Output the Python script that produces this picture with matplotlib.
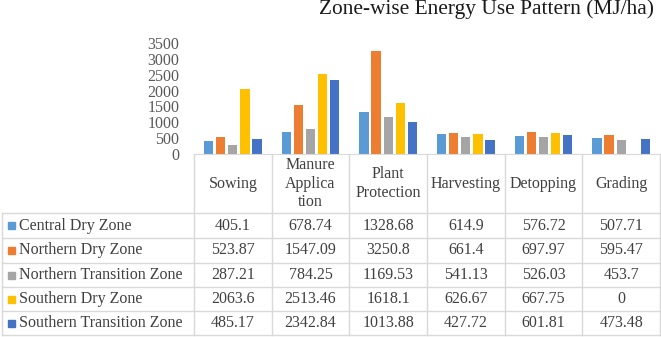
import numpy as np
import matplotlib.pyplot as plt
from matplotlib.patches import Rectangle

plt.rcParams['font.family'] = ['Liberation Serif', 'DejaVu Serif']

# Data
operations = ["Sowing", "Manure\nApplica\ntion", "Plant\nProtection", "Harvesting", "Detopping", "Grading"]
zones = ["Central Dry Zone", "Northern Dry Zone", "Northern Transition Zone",
         "Southern Dry Zone", "Southern Transition Zone"]
central_dry = [405.1, 678.74, 1328.68, 614.9, 576.72, 507.71]
northern_dry = [523.87, 1547.09, 3250.8, 661.4, 697.97, 595.47]
northern_transition = [287.21, 784.25, 1169.53, 541.13, 526.03, 453.7]
southern_dry = [2063.6, 2513.46, 1618.1, 626.67, 667.75, 0]
southern_transition = [485.17, 2342.84, 1013.88, 427.72, 601.81, 473.48]
yticks = [0, 500, 1000, 1500, 2000, 2500, 3000, 3500]

series = [central_dry, northern_dry, northern_transition, southern_dry, southern_transition]
colors = ['#5B9BD5', '#ED7D31', '#A5A5A5', '#FFC000', '#4472C4']

W, H = 661, 337
fig = plt.figure(figsize=(W / 100, H / 100), dpi=100)

# layout in pixels
x0, x1 = 194, 660      # category columns
y_top, y_axis = 43, 154  # plot top / axis line
lab_x0 = 2
row_lines = [213, 238, 263, 287, 311, 335]
grid_c = '#D9D9D9'
txt_c = '#404040'

ax = fig.add_axes([x0 / W, 1 - y_axis / H, (x1 - x0) / W, (y_axis - y_top) / H])
n = len(operations)
idx = np.arange(n)
pitch, bw = 0.155, 0.12
for i, (vals, c) in enumerate(zip(series, colors)):
    ax.bar(idx + (i - 2) * pitch, vals, width=bw, color=c, zorder=2)
ax.set_xlim(-0.5, n - 0.5)
ax.set_ylim(0, 3500)
ax.set_yticks(yticks)
ax.set_yticklabels([str(t) for t in yticks], fontsize=11.5, color='#595959')
ax.tick_params(axis='y', length=0, pad=10.5)
ax.set_xticks([])
for s in ['top', 'right', 'left']:
    ax.spines[s].set_visible(False)
ax.spines['bottom'].set_color(grid_c)
ax.patch.set_alpha(0)

# data table drawn on a pixel-space overlay
tab = fig.add_axes([0, 0, 1, 1])
tab.set_xlim(0, W)
tab.set_ylim(H, 0)
tab.axis('off')
tab.patch.set_alpha(0)

cw = (x1 - x0) / n
# vertical lines
for k in range(n + 1):
    tab.plot([x0 + k * cw] * 2, [y_axis, row_lines[-1]], color=grid_c, lw=1)
tab.plot([lab_x0] * 2, [row_lines[0], row_lines[-1]], color=grid_c, lw=1)
# horizontal lines
for yl in row_lines:
    tab.plot([lab_x0, x1], [yl, yl], color=grid_c, lw=1)

# header
for k, op in enumerate(operations):
    tab.text(x0 + (k + 0.5) * cw, (y_axis + row_lines[0]) / 2, op, ha='center', va='center',
             fontsize=11.5, color=txt_c, linespacing=1.2)

# rows
for r, (zone, vals, c) in enumerate(zip(zones, series, colors)):
    yc = (row_lines[r] + row_lines[r + 1]) / 2
    tab.add_patch(Rectangle((8, yc - 3.5), 7, 7, color=c))
    tab.text(19, yc, zone, ha='left', va='center', fontsize=11.5, color=txt_c)
    for k, v in enumerate(vals):
        tab.text(x0 + (k + 0.5) * cw, yc, f"{v:g}", ha='center', va='center',
                 fontsize=11.5, color=txt_c)

fig.text(654 / W, 1 - 9 / H, "Zone-wise Energy Use Pattern (MJ/ha)", ha='right', va='center',
         fontsize=15.4, color='#1a1a1a')

fig.savefig('out.png', dpi=100)
